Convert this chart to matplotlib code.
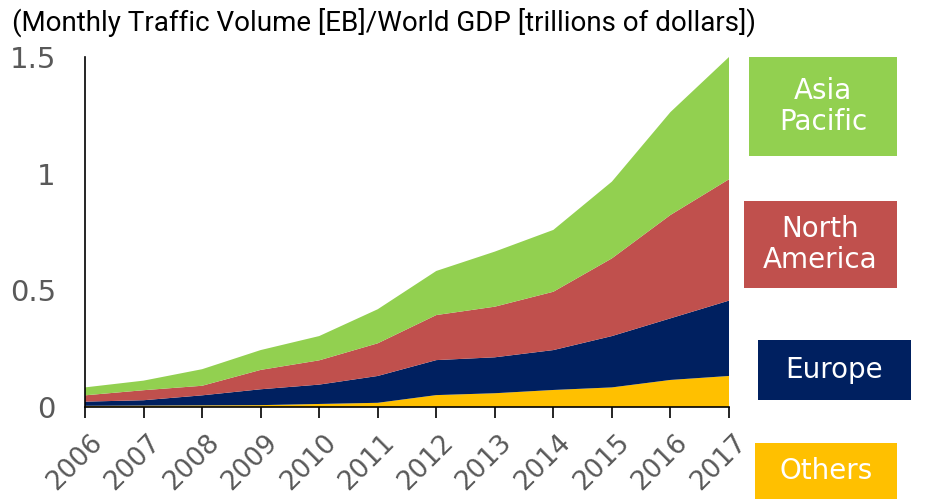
import matplotlib.pyplot as plt
import matplotlib.transforms as mtransforms
from matplotlib.patches import Rectangle

# Monthly traffic volume [EB] / world GDP [trillions of dollars], by region
years = list(range(2006, 2018))
others = [0.005, 0.006, 0.007, 0.008, 0.013, 0.018, 0.051, 0.059, 0.073, 0.084, 0.116, 0.133]
europe = [0.018, 0.023, 0.043, 0.068, 0.083, 0.115, 0.150, 0.154, 0.171, 0.220, 0.264, 0.323]
north_america = [0.027, 0.043, 0.041, 0.083, 0.104, 0.140, 0.193, 0.217, 0.250, 0.333, 0.443, 0.520]
asia_pacific = [0.034, 0.041, 0.071, 0.085, 0.104, 0.146, 0.189, 0.236, 0.265, 0.329, 0.441, 0.524]

colors = ["#FFC000", "#002060", "#C0504D", "#92D050"]
y_ticks = [0, 0.5, 1, 1.5]
y_tick_labels = ["0", "0.5", "1", "1.5"]

fig = plt.figure(figsize=(9.28, 5.01), dpi=100)
ax = fig.add_axes([85 / 928, 1 - 407 / 501, 644 / 928, 350 / 501])

ax.stackplot(years, others, europe, north_america, asia_pacific, colors=colors, linewidth=0)

ax.set_xlim(2006, 2017)
ax.set_ylim(0, 1.5)
ax.set_xticks(years)
ax.set_xticklabels([str(y) for y in years], rotation=45, ha="right", va="top",
                   rotation_mode="anchor", fontsize=19, color="#595959")
ax.set_yticks(y_ticks)
ax.set_yticklabels(y_tick_labels, fontsize=21, color="#595959")
ax.tick_params(axis="x", direction="out", length=8, width=1.2, pad=8)
ax.tick_params(axis="y", length=0, pad=21)
for side in ["top", "right"]:
    ax.spines[side].set_visible(False)
ax.spines["left"].set_linewidth(1.2)
ax.spines["bottom"].set_linewidth(1.2)

# nudge year labels a little to the right, like the original
shift = mtransforms.ScaledTranslation(4 / 100, 0, fig.dpi_scale_trans)
for lbl in ax.get_xticklabels():
    lbl.set_transform(lbl.get_transform() + shift)

fig.text(12 / 928, 1 - 22 / 501, "(Monthly Traffic Volume [EB]/World GDP [trillions of dollars])",
         fontsize=20, family=["Roboto", "DejaVu Sans"], ha="left", va="center")

# legend boxes (pixel layout: x0, y_top, x1, y_bottom)
boxes = [
    ("Asia\nPacific", "#92D050", 749, 57, 897, 156),
    ("North\nAmerica", "#C0504D", 744, 201, 897, 288),
    ("Europe", "#002060", 758, 340, 911, 400),
    ("Others", "#FFC000", 755, 443, 897, 499),
]
for text, color, x0, y0, x1, y1 in boxes:
    fig.patches.append(Rectangle((x0 / 928, 1 - y1 / 501), (x1 - x0) / 928, (y1 - y0) / 501,
                                 transform=fig.transFigure, facecolor=color, edgecolor="none"))
    fig.text((x0 + x1) / 2 / 928, 1 - (y0 + y1) / 2 / 501, text, color="white", fontsize=20,
             ha="center", va="center", linespacing=1.1)

fig.savefig("out.png", dpi=100)
